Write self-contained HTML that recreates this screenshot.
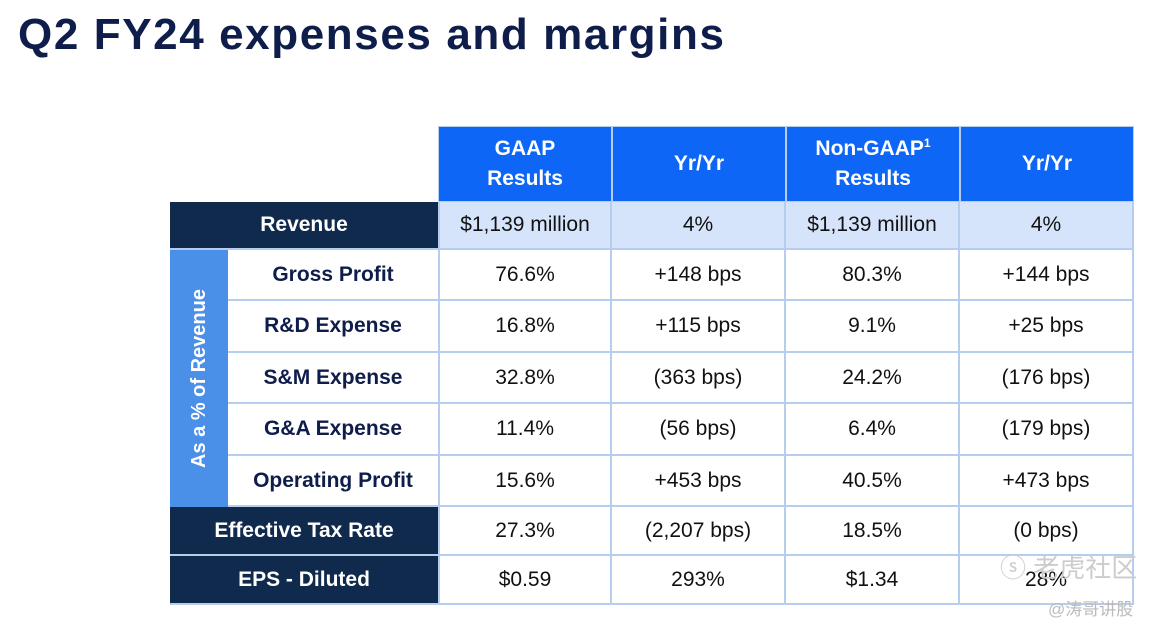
<!DOCTYPE html>
<html><head><meta charset="utf-8"><style>
body{margin:0;width:1176px;height:632px;background:#fff;position:relative;overflow:hidden;font-family:"Liberation Sans",sans-serif}
.t{position:absolute;left:18px;top:10px;font-size:44px;font-weight:bold;color:#0f1d4a;letter-spacing:1.6px}
.c{position:absolute;display:flex;align-items:center;justify-content:center;text-align:center;box-sizing:border-box;font-size:21px;color:#111}
.h{background:#0d66f5;color:#fff;font-weight:bold;line-height:30px;border:1px solid #b7cdef}
.n{background:#0f2a4c;color:#fff;font-weight:bold;border-bottom:2px solid #b7cdef}
.l{color:#0f1d4a;font-weight:bold;background:#fff;border-bottom:2px solid #b7cdef}
.v{border-right:2px solid #b7cdef;border-bottom:2px solid #b7cdef;background:#fff}
.r{background:#d6e4fb}
.wm{position:absolute;color:#ccc;font-family:"Liberation Sans","Noto Sans CJK SC",sans-serif}
</style></head><body>
<div class="t">Q2 FY24 expenses and margins</div>
<div id="tbl"></div>
<div class="wm" style="left:1000px;top:548px;font-size:26px">ⓢ 老虎社区</div>
<div class="wm" style="left:1048px;top:595px;font-size:17px;color:#bbb">@涛哥讲股</div>
<script>
const headers=["GAAP<br>Results","Yr/Yr","Non-GAAP<sup style='font-size:12px;line-height:0'>1</sup><br>Results","Yr/Yr"];
const rows=["Revenue","Gross Profit","R&amp;D Expense","S&amp;M Expense","G&amp;A Expense","Operating Profit","Effective Tax Rate","EPS - Diluted"];
const vals=[["$1,139 million","4%","$1,139 million","4%"],["76.6%","+148 bps","80.3%","+144 bps"],["16.8%","+115 bps","9.1%","+25 bps"],["32.8%","(363 bps)","24.2%","(176 bps)"],["11.4%","(56 bps)","6.4%","(179 bps)"],["15.6%","+453 bps","40.5%","+473 bps"],["27.3%","(2,207 bps)","18.5%","(0 bps)"],["$0.59","293%","$1.34","28%"]];
const colX=[438,612,786,960,1134];
const rowY=[202,250,301,353,404,456,507,556,605];
const T=document.getElementById('tbl');
function cell(cls,x,y,w,h,html,name){const d=document.createElement('div');d.className='c '+cls;d.style.left=x+'px';d.style.top=y+'px';d.style.width=w+'px';d.style.height=h+'px';d.innerHTML='<span>'+html+'</span>';


T.appendChild(d);return d;}
headers.forEach((h,i)=>cell('h',colX[i],126,colX[i+1]-colX[i],76,h,'header-'+i));
rows.forEach((r,i)=>{const y=rowY[i],hh=rowY[i+1]-y;const mid=i>=1&&i<=5;
 if(mid)cell('l',228,y,210,hh,r,'row-label-'+i);else cell('n',170,y,268,hh,r,'row-label-'+i);
 vals[i].forEach((v,j)=>{const d=cell('v'+(i==0?' r':''),colX[j],y,colX[j+1]-colX[j],hh,v,'cell-'+i+'-'+j);if(j==0)d.style.borderLeft='2px solid #b7cdef';});
});
const vc=cell('',170,250,58,257,'<span style="transform:rotate(-90deg);white-space:nowrap;display:inline-block">As a % of Revenue</span>','vertical-group-label');
vc.style.background='#4a8fe8';vc.style.color='#fff';vc.style.fontWeight='bold';vc.style.fontSize='20px';
</script>
</body></html>
